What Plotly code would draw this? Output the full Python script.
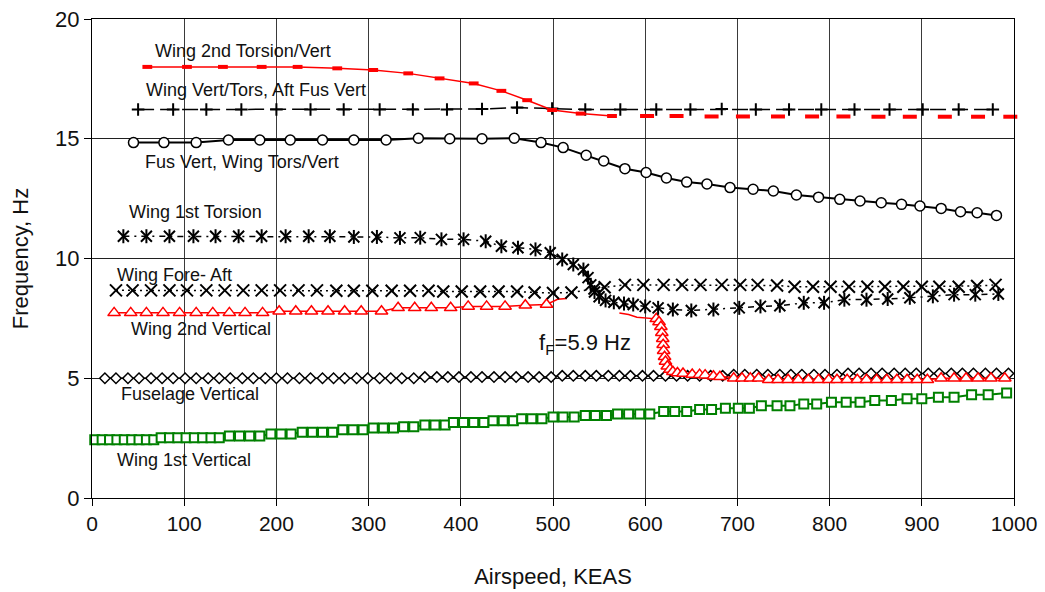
import plotly.graph_objects as go

# ---------------- data (airspeed KEAS, frequency Hz) ----------------
t2_x = [60, 103, 142, 184, 223, 266, 305, 343, 377, 414, 444, 472, 499, 530, 564,
        602, 634, 672, 706, 744, 781, 815, 853, 887, 925, 961, 996]
t2_y = [18.0, 18.0, 18.0, 18.0, 18.0, 17.94, 17.87, 17.73, 17.52, 17.31, 17.0, 16.61, 16.2, 16.05, 15.95,
        15.95, 15.95, 15.93, 15.93, 15.93, 15.93, 15.93, 15.92, 15.92, 15.92, 15.92, 15.92]

vt_x = [50, 88, 124, 162, 200, 237, 273, 312, 348, 385, 423, 461, 499, 535, 573, 612, 649,
        683, 720, 756, 791, 827, 865, 901, 940, 977]
vt_y = [16.22, 16.22, 16.22, 16.22, 16.22, 16.22, 16.22, 16.22, 16.22, 16.22, 16.24, 16.3, 16.26,
        16.22, 16.22, 16.22, 16.22, 16.24, 16.22, 16.22, 16.22, 16.22, 16.22, 16.22, 16.22, 16.22]

fv_x = [45, 78, 113, 148, 182, 215, 250, 284, 319, 354, 388, 423, 458, 487, 511, 536, 555, 578,
        601, 623, 645, 667, 692, 717, 739, 764, 788, 811, 833, 856, 878, 898, 921, 942, 960, 981]
fv_y = [14.84, 14.84, 14.84, 14.95, 14.95, 14.95, 14.95, 14.95, 14.95, 15.02, 15.0, 15.0, 15.02,
        14.84, 14.63, 14.31, 14.07, 13.75, 13.59, 13.36, 13.19, 13.11, 12.96, 12.89, 12.82, 12.65,
        12.56, 12.47, 12.4, 12.33, 12.26, 12.19, 12.09, 11.95, 11.91, 11.8]

w1t_x = [34, 59, 84, 110, 134, 159, 184, 210, 235, 258, 284, 309, 334, 356, 379, 403, 427, 444,
         462, 481, 497, 510, 522, 533, 538, 541, 545, 550, 557, 566, 577, 587, 600, 614, 630, 650,
         674, 702, 725, 746, 772, 794, 816, 840, 863, 887, 912, 935, 958, 983]
w1t_y = [10.93, 10.93, 10.93, 10.93, 10.93, 10.93, 10.93, 10.93, 10.93, 10.93, 10.9, 10.9, 10.86,
         10.87, 10.8, 10.8, 10.72, 10.51, 10.45, 10.38, 10.24, 9.96, 9.75, 9.54, 9.2, 8.9, 8.6,
         8.4, 8.25, 8.17, 8.12, 8.08, 8.0, 7.94, 7.87, 7.83, 7.87, 7.94, 8.0, 8.03, 8.15, 8.15,
         8.28, 8.28, 8.31, 8.36, 8.42, 8.49, 8.49, 8.52]

fa_x = [26, 44, 64, 84, 103, 124, 144, 164, 184, 204, 224, 244, 265, 284, 304, 325, 345, 365,
        381, 401, 421, 441, 461, 480, 500, 520, 545, 556, 578, 598, 620, 640, 660, 683, 703, 722,
        743, 762, 782, 801, 821, 841, 860, 880, 900, 919, 940, 960, 980]
fa_y = [8.67, 8.67, 8.67, 8.67, 8.67, 8.67, 8.67, 8.67, 8.67, 8.67, 8.67, 8.67, 8.65, 8.65, 8.65,
        8.65, 8.65, 8.65, 8.62, 8.62, 8.62, 8.62, 8.62, 8.58, 8.56, 8.58, 8.75, 8.8, 8.9, 8.9,
        8.9, 8.9, 8.9, 8.9, 8.9, 8.9, 8.87, 8.82, 8.82, 8.82, 8.82, 8.82, 8.82, 8.82, 8.82,
        8.82, 8.82, 8.85, 8.9]

w2v_x = [24, 42, 59, 77, 95, 113, 131, 149, 166, 185, 203, 221, 238, 256, 274, 292, 314, 332,
         350, 368, 389, 408, 428, 448, 470, 493, 505, 515, None, 572, 582, 591, 605, 612, 615,
         617, 618, 619, 619.5, 620, 621, 622, 624, 627, 630, 635, 641, 651, 659, 665, 674, 681,
         696, 705, 714, 723, 734, 744, 755, 766, 777, 788, 799, 808, 819, 830, 840, 851, 862,
         873, 884, 895, 906, 921, 935, 948, 961, 975, 990]
w2v_y = [7.73, 7.73, 7.73, 7.73, 7.73, 7.73, 7.73, 7.73, 7.73, 7.73, 7.8, 7.8, 7.8, 7.8, 7.8,
         7.8, 7.8, 7.94, 7.94, 7.94, 7.94, 8.0, 8.0, 8.0, 8.05, 8.08, 8.3, 8.33, None, 7.72, 7.66,
         7.55, 7.52, 7.48, 7.35, 7.15, 6.9, 6.65, 6.4, 6.15, 5.9, 5.7, 5.5, 5.37, 5.27, 5.22,
         5.2, 5.16, 5.15, 5.13, 5.08, 5.06, 5.0, 5.0, 5.0, 5.0, 4.94, 4.94, 4.94, 4.94, 4.94,
         4.94, 4.94, 4.94, 4.94, 4.94, 4.94, 4.94, 4.94, 4.94, 4.94, 4.94, 4.94, 5.0, 5.0, 5.0,
         5.0, 5.0, 5.0]

fus_x = [14, 26, 39, 51, 64, 76, 88, 101, 113, 126,
         138, 150, 163, 175, 188, 200, 212, 225, 237, 250,
         262, 274, 287, 299, 312, 324, 336, 349, 361, 374,
         386, 398, 411, 423, 436, 448, 460, 473, 485, 498,
         510, 522, 535, 547, 560, 572, 584, 597, 609, 622,
         634, 646, 659, 671, 684, 696, 708, 721, 733, 746,
         758, 770, 783, 795, 808, 820, 832, 845, 857, 870,
         882, 894, 907, 919, 932, 944, 956, 969, 981, 994]
fus_y = [5.0, 5.0, 5.0, 5.0, 5.0, 5.0, 5.0, 5.0, 5.0, 5.0,
         5.0, 5.0, 5.0, 5.0, 5.0, 5.0, 5.0, 5.0, 5.0, 5.0,
         5.0, 5.0, 5.0, 5.0, 5.0, 5.0, 5.0, 5.0, 5.05, 5.05,
         5.05, 5.05, 5.05, 5.05, 5.05, 5.05, 5.05, 5.05, 5.05, 5.05,
         5.1, 5.1, 5.1, 5.1, 5.1, 5.1, 5.1, 5.1, 5.1, 5.1,
         5.1, 5.1, 5.1, 5.1, 5.1, 5.15, 5.15, 5.15, 5.15, 5.15,
         5.15, 5.15, 5.15, 5.15, 5.15, 5.2, 5.2, 5.2, 5.2, 5.2,
         5.2, 5.2, 5.2, 5.2, 5.2, 5.2, 5.2, 5.2, 5.2, 5.2]

w1v_x = [3, 11, 19, 27, 35, 43, 51, 59, 67,
         75, 84, 93, 102, 111, 120, 129, 138,
         149, 160, 171, 182, 194, 205, 216, 228, 239, 250, 261,
         272, 283, 294, 305, 316, 327, 338, 349, 361, 372, 383,
         392, 403, 414, 425, 435, 446, 457, 466, 477, 488,
         500, 511, 523, 535, 546, 558, 570, 582, 594, 605,
         620, 632, 645, 659, 672, 687, 701, 713, 726, 743, 757,
         772, 786, 802, 818, 833, 849, 867, 884, 900, 918, 935, 954, 972, 992]
w1v_y = [2.43, 2.43, 2.43, 2.43, 2.43, 2.43, 2.43, 2.43, 2.43,
         2.52, 2.52, 2.52, 2.52, 2.52, 2.52, 2.52, 2.52,
         2.59, 2.59, 2.59, 2.59, 2.67, 2.67, 2.67, 2.75, 2.75, 2.75, 2.75,
         2.85, 2.85, 2.85, 2.92, 2.92, 2.92, 2.98, 2.98, 3.05, 3.05, 3.05,
         3.15, 3.15, 3.15, 3.15, 3.23, 3.23, 3.23, 3.31, 3.31, 3.31,
         3.38, 3.38, 3.38, 3.44, 3.44, 3.44, 3.51, 3.51, 3.51, 3.51,
         3.61, 3.61, 3.61, 3.7, 3.7, 3.75, 3.75, 3.75, 3.85, 3.85, 3.85,
         3.93, 3.93, 4.0, 4.0, 4.0, 4.07, 4.07, 4.14, 4.14, 4.21, 4.21, 4.31, 4.31, 4.38]

x_ticks = [0, 100, 200, 300, 400, 500, 600, 700, 800, 900, 1000]
y_ticks = [0, 5, 10, 15, 20]

labels = [
    ("Wing 2nd Torsion/Vert", 164, 18.66),
    ("Wing Vert/Tors, Aft Fus Vert", 178, 17.05),
    ("Fus Vert, Wing Tors/Vert", 163, 14.04),
    ("Wing 1st Torsion", 112, 11.95),
    ("Wing Fore- Aft", 89.5, 9.31),
    ("Wing 2nd Vertical", 118, 7.05),
    ("Fuselage Vertical", 106, 4.33),
    ("Wing 1st Vertical", 100, 1.57),
]
flutter_label = ("f<sub>F</sub>=5.9 Hz", 535, 6.42)

# ---------------- figure ----------------
FONT = "Liberation Sans, Arial, sans-serif"
RED = "#FF0000"
GREEN = "#008000"
fig = go.Figure()


def add(x, y, mode, line=None, marker=None):
    fig.add_trace(go.Scatter(x=x, y=y, mode=mode, line=line, marker=marker,
                             showlegend=False, hoverinfo="skip", cliponaxis=False,
                             connectgaps=False))


# Wing 1st Vertical (green squares)
add(w1v_x, w1v_y, "lines+markers", line=dict(color=GREEN, width=2),
    marker=dict(symbol="square", size=9, color="white", line=dict(color=GREEN, width=2)))

# Fuselage Vertical (diamonds)
add(fus_x, fus_y, "lines+markers", line=dict(color="black", width=1.5),
    marker=dict(symbol="diamond", size=8, color="white", line=dict(color="black", width=1.5)))

# Wing 2nd Vertical (red triangles): line everywhere, markers except flutter transition band
add(w2v_x, w2v_y, "lines", line=dict(color=RED, width=1.5))
mk = [(a, b) for a, b in zip(w2v_x, w2v_y) if a is not None and (a <= 493 or a >= 612)]
add([p[0] for p in mk], [p[1] for p in mk], "markers",
    marker=dict(symbol="triangle-up", size=11, color="white", line=dict(color=RED, width=1.5)))

# Wing Fore-Aft (X markers, dotted)
add(fa_x, fa_y, "lines+markers", line=dict(color="black", width=1.5, dash="2px,4px"),
    marker=dict(symbol="x-thin", size=12, color="black", line=dict(color="black", width=2)))

# Wing 1st Torsion (star markers, dash-dot)
add(w1t_x, w1t_y, "lines+markers", line=dict(color="black", width=1.5, dash="6px,5px,2px,5px"),
    marker=dict(symbol="x-thin", size=11, color="black", line=dict(color="black", width=2)))
add(w1t_x, w1t_y, "markers",
    marker=dict(symbol="line-ns", size=10, color="black", line=dict(color="black", width=2)))

# Fus Vert, Wing Tors/Vert (open circles)
add(fv_x, fv_y, "lines+markers", line=dict(color="black", width=2),
    marker=dict(symbol="circle", size=10, color="white", line=dict(color="black", width=1.5)))

# Wing Vert/Tors, Aft Fus Vert (+ markers, dashed)
add(vt_x, vt_y, "lines+markers", line=dict(color="black", width=1.5, dash="16px,6px"),
    marker=dict(symbol="cross-thin", size=9, color="black", line=dict(color="black", width=2)))

# Wing 2nd Torsion/Vert (red dash markers)
k = t2_x.index(564) + 1
add(t2_x[:k], t2_y[:k], "lines+markers", line=dict(color=RED, width=1.5),
    marker=dict(symbol="line-ew", size=7, color=RED, line=dict(color=RED, width=4)))
add(t2_x[k:], t2_y[k:], "markers",
    marker=dict(symbol="line-ew", size=10, color=RED, line=dict(color=RED, width=4)))

for text, lx, ly in labels:
    fig.add_annotation(x=lx, y=ly, text=text, showarrow=False, xanchor="center", yanchor="middle",
                       font=dict(family=FONT, size=18, color="#111111"))
fig.add_annotation(x=flutter_label[1], y=flutter_label[2], text=flutter_label[0], showarrow=False,
                   xanchor="center", yanchor="middle", font=dict(family=FONT, size=22, color="#111111"))

fig.update_layout(
    width=1045, height=592,
    margin=dict(l=92, r=31, t=19, b=94, autoexpand=False),
    paper_bgcolor="white", plot_bgcolor="white",
    showlegend=False,
    font=dict(family=FONT, color="black"),
)
fig.update_xaxes(
    range=[0, 1000], tickvals=x_ticks, ticktext=[str(v) for v in x_ticks],
    showgrid=True, gridcolor="#3a3a3a", gridwidth=1, zeroline=False,
    showline=True, linecolor="black", linewidth=1, mirror=True, automargin=False,
    ticks="outside", ticklen=7, tickcolor="black",
    tickfont=dict(size=21, family=FONT, color="#111111"),
    title=dict(text="Airspeed, KEAS", font=dict(size=22, family=FONT, color="#111111"), standoff=34),
)
fig.update_yaxes(
    range=[0, 20], tickvals=y_ticks, ticktext=[str(v) for v in y_ticks],
    showgrid=True, gridcolor="#202020", gridwidth=1, zeroline=False,
    showline=True, linecolor="black", linewidth=1, mirror=True, automargin=False,
    ticks="outside", ticklen=7, tickcolor="black",
    tickfont=dict(size=22, family=FONT, color="#111111"),
    title=dict(text="Frequency, Hz", font=dict(size=22, family=FONT, color="#111111"), standoff=20),
)

fig.write_html("out.html")
